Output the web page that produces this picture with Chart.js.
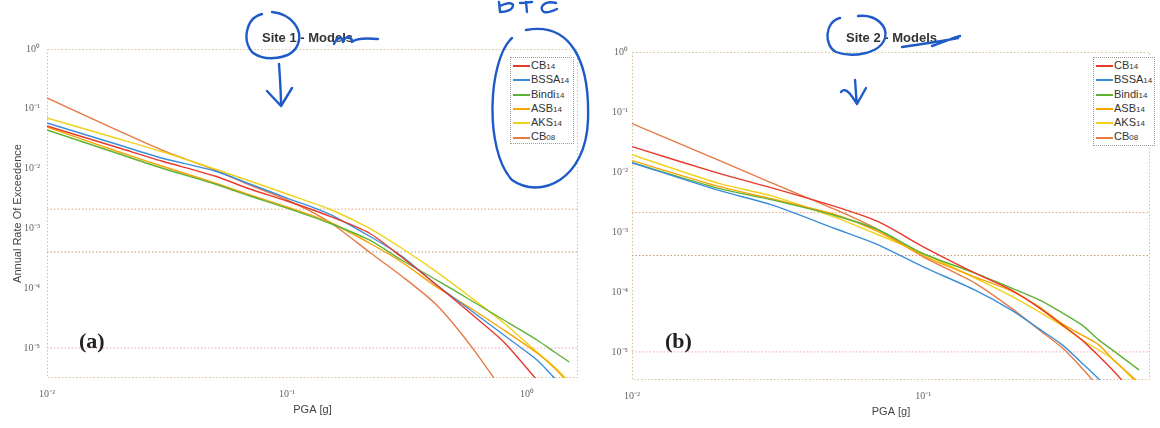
<!DOCTYPE html>
<html>
<head>
<title>Hazard curves - Site 1 / Site 2</title>
<script src="https://cdn.jsdelivr.net/npm/chart.js@4.4.1/dist/chart.umd.min.js"></script>
<style>
  body { margin: 0; background: #fff; width: 1160px; height: 428px; overflow: hidden; position: relative;
         font-family: "Liberation Sans", Arial, sans-serif; }
  canvas { position: absolute; top: 0; }
  #site1 { left: 0; }
  #site2 { left: 590px; }
  .title { position: absolute; top: 30px; font-weight: bold; font-size: 13px; color: #333; white-space: nowrap; }
  .tag { position: absolute; top: 328px; font: bold 22px "Liberation Serif", "Times New Roman", serif; color: #222; }
  .legend { position: absolute; background: #fff; border: 1px dotted #a09a90; font-size: 11px; color: #333; box-sizing: border-box; }
  .legend .row { height: 14.3px; line-height: 14.3px; white-space: nowrap; }
  .legend .swatch { display: inline-block; width: 17px; margin: 0 1px 0 2px; border-top: 2px solid; vertical-align: middle; }
  .legend small { font-size: 8px; }
  svg { position: absolute; left: 0; top: 0; pointer-events: none; }
</style>
</head>
<body>
<canvas id="site1" width="590" height="428"></canvas>
<canvas id="site2" width="570" height="428"></canvas>
<div class="title" style="left:262px">Site 1 - Models</div>
<div class="title" style="left:846px">Site 2 - Models</div>
<div class="tag" style="left:79px">(a)</div>
<div class="tag" style="left:665px">(b)</div>
<div class="legend" id="legend1" style="left:510px; top:57px; width:64px; height:87px"></div>
<div class="legend" id="legend2" style="left:1093px; top:57px; width:62px; height:89px"></div>

<!-- pen marks on the scan -->
<svg width="1160" height="428">
  <g fill="none" stroke="#1f5bc6" stroke-width="2.4" stroke-linecap="round" stroke-linejoin="round">
    <path d="M262 14 C246 18 242 40 252 52 C264 62 292 60 298 44 C303 30 292 14 272 12" />
    <path d="M279 64 C280 78 281 92 281 105 M267 91 L281 106 L292 88" />
    <path d="M334 44 C338 36 342 36 343 42 C346 35 352 36 352 42 C356 38 366 38 378 39" />
    <path d="M512 38 C488 60 484 150 512 180 C540 200 586 180 588 120 C590 60 570 22 526 30" />
    <path d="M499 2 L500 12 C506 12 513 10 513 5 C512 2 506 3 500 6 M520 3 L532 2 M526 2 L527 12 M556 3 C544 0 538 8 544 12 C548 13 553 11 557 9" />
    <path d="M840 18 C824 22 824 46 836 52 C852 58 880 54 885 38 C888 26 876 14 858 16" />
    <path d="M855 80 C856 90 856 98 857 104 M841 92 C846 86 852 96 857 104 L866 88" />
    <path d="M902 47 C920 44 940 42 958 38 M932 46 C945 42 952 38 960 36" />
  </g>
</svg>

<script>
// ---------- data ----------
const seriesNames  = ["CB14", "BSSA14", "Bindi14", "ASB14", "AKS14", "CB08"];
const seriesColors = ["#e8392a", "#3a8edb", "#5fb236", "#f7a400", "#f0d21c", "#e57a45"];

// Site 1 (panel a)
const pgaSite1     = [0.01, 0.02, 0.03, 0.05, 0.07, 0.1, 0.15, 0.22, 0.3, 0.42, 0.58, 0.8, 1.1, 1.3, 1.5];
const site1CB14    = [0.0516, 0.0221, 0.0134, 0.00752, 0.00456, 0.00287, 0.00161, 0.000838, 0.000332, 0.000113, 3.85e-5, 1.26e-5, 2.9e-6, null, null];
const site1BSSA14  = [0.0579, 0.0248, 0.01504, 0.00912, 0.00553, 0.00322, 0.00174, 0.000746, 0.000346, 0.000113, 4.32e-5, 1.65e-5, 6.3e-6, 3.15e-6, 1.84e-6];
const site1Bindi14 = [0.0442, 0.01754, 0.01023, 0.00553, 0.00348, 0.00219, 0.00123, 0.00064, 0.000296, 0.000137, 6.35e-5, 2.94e-5, 1.36e-5, 8.57e-6, 5.83e-6];
const site1ASB14   = [0.0496, 0.01895, 0.01105, 0.00574, 0.00362, 0.00228, 0.00128, 0.00057, 0.000274, 0.000105, 4.67e-5, 2.0e-5, 8.25e-6, 4.63e-6, 2.5e-6];
const site1AKS14   = [0.0702, 0.0313, 0.0193, 0.00985, 0.0062, 0.00376, 0.00211, 0.001015, 0.00047, 0.000187, 7.12e-5, 2.62e-5, 8.57e-6, 4.81e-6, 2.7e-6];
const site1CB08    = [0.1516, 0.0425, 0.0205, 0.00948, 0.00532, 0.00299, 0.00128, 0.000403, 0.00016, 5.24e-5, 1.12e-5, 1.84e-6, null, null, null];

// Site 2 (panel b)
const pgaSite2     = [0.01, 0.02, 0.03, 0.05, 0.07, 0.1, 0.15, 0.2, 0.25, 0.3, 0.35, 0.4, 0.45, 0.5, 0.55];
const site2CB14    = [0.02645, 0.00937, 0.00547, 0.002635, 0.00148, 0.000566, 0.000208, 0.000108, 5.43e-5, 2.82e-5, 1.586e-5, 8.57e-6, 4.82e-6, 2.71e-6, null];
const site2BSSA14  = [0.01429, 0.00487, 0.002845, 0.00113, 0.000611, 0.000262, 0.000108, 5.03e-5, 2.42e-5, 1.31e-5, 6.55e-6, 3.54e-6, 1.91e-6, null, null];
const site2Bindi14 = [0.01429, 0.00526, 0.00345, 0.001865, 0.001088, 0.000433, 0.000208, 0.000117, 7.38e-5, 4.48e-5, 2.82e-5, 1.586e-5, 1.04e-5, 7.07e-6, 5.01e-6];
const site2ASB14   = [0.01544, 0.00568, 0.00358, 0.001937, 0.001008, 0.0004006, 0.0001787, 0.0001043, 5.64e-5, 2.93e-5, 1.92e-5, 1.31e-5, 7.35e-6, 4.64e-6, 3.04e-6];
const site2AKS14   = [0.01944, 0.00638, 0.00402, 0.001727, 0.000898, 0.000433, 0.000172, 8.61e-5, 4.65e-5, 2.72e-5, 1.586e-5, 1.08e-5, 7.35e-6, 4.46e-6, 2.81e-6];
const site2CB08    = [0.064, 0.01544, 0.00663, 0.00235, 0.001088, 0.000385, 0.000142, 5.43e-5, 2.33e-5, 1.17e-5, 5.41e-6, 2.6e-6, null, null, null];

// dotted hazard levels (10%/50yr, 2%/50yr, 1e-5)
const hazardLevels = [2.1e-3, 4.04e-4, 1e-5];
const hazardColors = ["#e9a27a", "#b99a78", "#f0a6b8"];

// ---------- helpers ----------
const SUP = { "-": "\u207B", "0": "\u2070", "1": "\u00B9", "2": "\u00B2", "3": "\u00B3", "4": "\u2074", "5": "\u2075", "6": "\u2076" };
function powLabel(v) {
  const e = Math.log10(v);
  const r = Math.round(e);
  if (Math.abs(e - r) > 1e-6) return "";
  return "10" + String(r).split("").map(c => SUP[c]).join("");
}

const framePlugin = {
  id: "frame",
  beforeDatasetsDraw(chart) {
    const { ctx, chartArea: a } = chart;
    ctx.save();
    ctx.strokeStyle = "#d8c29c";
    ctx.lineWidth = 1;
    ctx.setLineDash([1.5, 2]);
    ctx.strokeRect(a.left + 0.5, a.top + 0.5, a.right - a.left - 1, a.bottom - a.top - 1);
    ctx.restore();
  }
};

function buildLegend(id) {
  const el = document.getElementById(id);
  seriesNames.forEach((n, i) => {
    const m = n.match(/^(\D+)(\d+)$/);
    const row = document.createElement("div");
    row.className = "row";
    row.innerHTML = `<span class="swatch" style="border-color:${seriesColors[i]}"></span>${m[1]}<small>${m[2]}</small>`;
    el.appendChild(row);
  });
}

function makePanel(canvasId, pga, curves, cfg) {
  const datasets = curves.map((vals, i) => ({
    label: seriesNames[i],
    data: pga.map((x, j) => ({ x: x, y: vals[j] })),
    borderColor: seriesColors[i],
    borderWidth: 1.4,
    pointRadius: 0,
    tension: 0.25,
    fill: false,
    order: i
  }));
  hazardLevels.forEach((h, i) => {
    datasets.push({
      label: "level" + i,
      data: [{ x: cfg.xMin, y: h }, { x: cfg.xMax, y: h }],
      borderColor: hazardColors[i],
      borderWidth: 1,
      borderDash: [1.5, 2],
      pointRadius: 0,
      order: 20
    });
  });

  new Chart(document.getElementById(canvasId), {
    type: "line",
    data: { datasets },
    plugins: [framePlugin],
    options: {
      responsive: false,
      animation: false,
      layout: { padding: { left: 0, top: cfg.top, right: cfg.right, bottom: 0 } },
      plugins: { legend: { display: false }, tooltip: { enabled: false } },
      scales: {
        x: {
          type: "logarithmic",
          min: cfg.xMin, max: cfg.xMax,
          afterFit: s => { s.height = cfg.xHeight; },
          grid: { display: false, drawTicks: false },
          border: { display: false },
          ticks: { autoSkip: false, maxRotation: 0, padding: 10, color: "#666",
                   font: { family: "Liberation Serif", size: 10 }, callback: v => powLabel(v) },
          title: { display: true, text: "PGA [g]", color: "#444", padding: { top: 0, bottom: cfg.xTitlePad },
                   font: { family: "Liberation Sans", size: 11 } }
        },
        y: {
          type: "logarithmic",
          min: cfg.yMin, max: 1,
          afterFit: s => { s.width = cfg.yWidth; },
          grid: { display: false, drawTicks: false },
          border: { display: false },
          ticks: { autoSkip: false, padding: cfg.yTickPad, color: "#666",
                   font: { family: "Liberation Serif", size: 10 }, callback: v => powLabel(v) },
          title: { display: cfg.yTitle, text: "Annual Rate Of Exceedence", color: "#444", padding: { top: 11, bottom: 0 },
                   font: { family: "Liberation Sans", size: 11 } }
        }
      }
    }
  });
}

makePanel("site1", pgaSite1,
  [site1CB14, site1BSSA14, site1Bindi14, site1ASB14, site1AKS14, site1CB08],
  { xMin: 0.01, xMax: 1.63, yMin: 3.15e-6, top: 49, right: 12, xHeight: 50, yWidth: 47, yTickPad: 7, xTitlePad: 11, yTitle: true });

makePanel("site2", pgaSite2,
  [site2CB14, site2BSSA14, site2Bindi14, site2ASB14, site2AKS14, site2CB08],
  { xMin: 0.01, xMax: 0.6, yMin: 3.4e-6, top: 52, right: 2, xHeight: 48, yWidth: 42, yTickPad: 4, xTitlePad: 9, yTitle: false });

buildLegend("legend1");
buildLegend("legend2");
</script>
</body>
</html>
